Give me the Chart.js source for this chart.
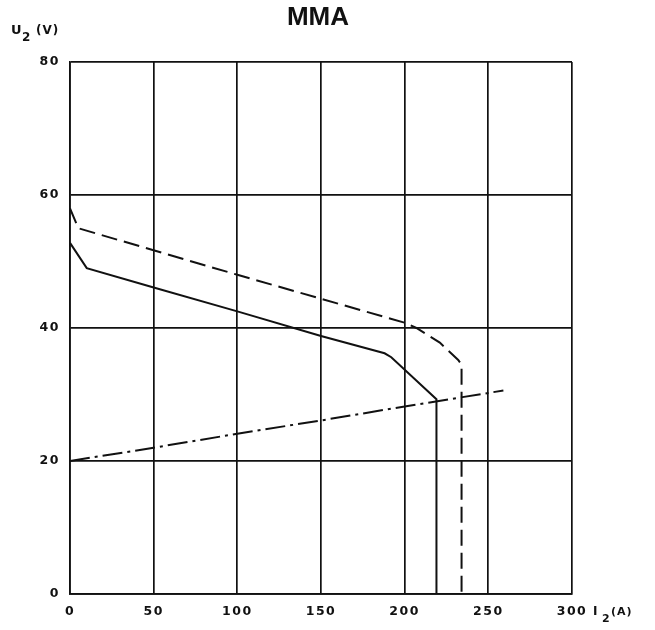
<!DOCTYPE html>
<html>
<head>
<meta charset="utf-8">
<script src="https://cdn.jsdelivr.net/npm/chart.js@4"></script>
<style>
  html, body { margin: 0; padding: 0; background: #fff; }
  #wrap { width: 655px; height: 630px; position: relative; }
</style>
</head>
<body>
<div id="wrap"><canvas id="c" width="655" height="630"></canvas></div>
<script>
// ---- Data ----
const xTicks = [0, 50, 100, 150, 200, 250, 300];
const yTicks = [0, 20, 40, 60, 80];

// solid curve
const solidI = [0, 10, 50, 100, 150, 188, 192, 219, 219];
const solidU = [52.8, 49, 46.1, 42.5, 38.8, 36.2, 35.6, 29.3, 0];

// dashed curve
const dashI = [0, 5, 100, 150, 200, 207, 221, 232, 234, 234];
const dashU = [58, 55, 48, 44.4, 40.8, 40, 37.8, 35.2, 34.5, 0];

// dash-dot load line
const loadI = [0, 50, 100, 150, 200, 259];
const loadU = [20, 22, 24.1, 26.1, 28.2, 30.6];

const titleText = 'MMA';

function pts(xs, ys) { return xs.map((x, i) => ({ x: x, y: ys[i] })); }

const textPlugin = {
  id: 'texts',
  beforeDraw(chart) {
    try { chart.ctx.letterSpacing = '1.5px'; } catch (e) {}
  },
  afterDraw(chart) {
    const ctx = chart.ctx;
    ctx.save();
    try { ctx.letterSpacing = '0px'; } catch (e) {}
    ctx.fillStyle = '#111';
    // title
    ctx.font = 'bold 26px "Liberation Sans", Arial, sans-serif';
    ctx.textAlign = 'center';
    ctx.textBaseline = 'alphabetic';
    ctx.fillText(titleText, 318, 25);
    // y axis title U2 (V)
    ctx.textAlign = 'left';
    ctx.font = 'bold 13px "DejaVu Sans", sans-serif';
    ctx.fillText('U', 11, 34);
    ctx.font = 'bold 12px "DejaVu Sans", sans-serif';
    ctx.fillText('2', 22, 41);
    try { ctx.letterSpacing = '1px'; } catch (e) {}
    ctx.font = 'bold 12px "DejaVu Sans", sans-serif';
    ctx.fillText('(V)', 36, 34);
    // x axis title I2(A)
    try { ctx.letterSpacing = '0px'; } catch (e) {}
    ctx.font = 'bold 12px "DejaVu Sans", sans-serif';
    ctx.fillText('I', 593, 615);
    ctx.font = 'bold 11px "DejaVu Sans", sans-serif';
    ctx.fillText('2', 602, 622);
    try { ctx.letterSpacing = '1px'; } catch (e) {}
    ctx.font = 'bold 11px "DejaVu Sans", sans-serif';
    ctx.fillText('(A)', 611, 615);
    ctx.restore();
  }
};

new Chart(document.getElementById('c'), {
  type: 'scatter',
  data: {
    datasets: [
      {
        label: 'solid',
        data: pts(solidI, solidU),
        showLine: true,
        borderColor: '#111',
        borderWidth: 2,
        pointRadius: 0,
        tension: 0
      },
      {
        label: 'dashed',
        data: pts(dashI, dashU),
        showLine: true,
        borderColor: '#111',
        borderWidth: 2,
        borderDash: [16, 7],
        pointRadius: 0,
        tension: 0
      },
      {
        label: 'load',
        data: pts(loadI, loadU),
        showLine: true,
        borderColor: '#111',
        borderWidth: 2,
        borderDash: [20, 5, 3, 5],
        pointRadius: 0,
        tension: 0
      }
    ]
  },
  options: {
    responsive: false,
    animation: false,
    layout: { padding: { left: 0, right: 83, top: 62, bottom: 0 } },
    plugins: {
      legend: { display: false },
      tooltip: { enabled: false },
      title: { display: false }
    },
    scales: {
      x: {
        type: 'linear',
        min: 0,
        max: 300,
        afterBuildTicks(scale) { scale.ticks = xTicks.map(v => ({ value: v })); },
        afterFit(scale) { scale.height = 36; },
        grid: { color: '#111', lineWidth: 1.7, drawTicks: false },
        border: { color: '#111', width: 1.7 },
        ticks: {
          color: '#111',
          padding: 10,
          font: { family: '"DejaVu Sans", sans-serif', weight: 'bold', size: 12.5 },
          maxRotation: 0
        }
      },
      y: {
        type: 'linear',
        min: 0,
        max: 80,
        afterBuildTicks(scale) { scale.ticks = yTicks.map(v => ({ value: v })); },
        afterFit(scale) { scale.width = 70; },
        grid: { color: '#111', lineWidth: 1.7, drawTicks: false },
        border: { color: '#111', width: 1.7 },
        ticks: {
          color: '#111',
          padding: 10,
          font: { family: '"DejaVu Sans", sans-serif', weight: 'bold', size: 12.5 }
        }
      }
    }
  },
  plugins: [textPlugin]
});
</script>
</body>
</html>
